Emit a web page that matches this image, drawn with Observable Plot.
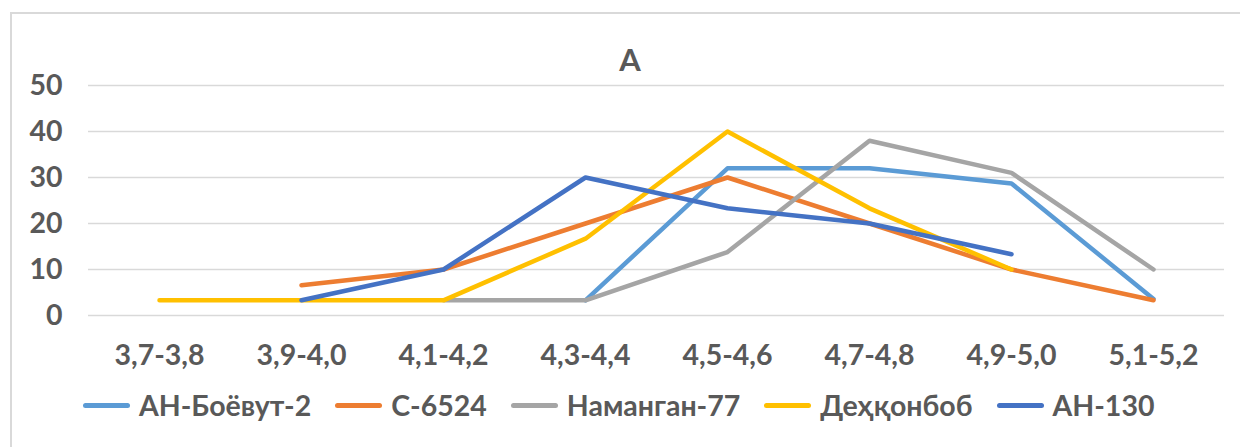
<!DOCTYPE html>
<html>
<head>
<meta charset="utf-8">
<script src="https://cdn.jsdelivr.net/npm/d3@7"></script>
<script src="https://cdn.jsdelivr.net/npm/@observablehq/plot@0.6"></script>
<style>
  html, body { margin: 0; padding: 0; background: #fff; }
  #wrap { position: relative; width: 1240px; height: 447px; overflow: hidden; font-family: Lato, "Open Sans", sans-serif; }
  #frame { position: absolute; left: 10px; top: 12px; width: 1300px; height: 500px; border-left: 2px solid #d9d9d9; border-top: 2px solid #d9d9d9; }
  #title { position: absolute; left: 0; width: 1260px; top: 40px; text-align: center; font-weight: 700; font-size: 31px; color: #595959; }
  #chart { position: absolute; left: 0; top: 0; }
  #legend { position: absolute; left: 83px; top: 388px; display: flex; align-items: center; font-weight: 700; font-size: 28.5px; color: #595959; white-space: nowrap; }
  .item { display: flex; align-items: center; margin-right: 24px; }
  .sw { width: 47px; height: 5px; border-radius: 3px; margin-right: 9px; }
</style>
</head>
<body>
<div id="wrap">
  <div id="frame"></div>
  <div id="chart"></div>
  <div id="title">A</div>
  <div id="legend"></div>
</div>
<script>
const categories = ["3,7-3,8", "3,9-4,0", "4,1-4,2", "4,3-4,4", "4,5-4,6", "4,7-4,8", "4,9-5,0", "5,1-5,2"];
const seriesNames = ["АН-Боёвут-2", "С-6524", "Наманган-77", "Деҳқонбоб", "АН-130"];
const seriesColors = ["#5B9BD5", "#ED7D31", "#A5A5A5", "#FFC000", "#4472C4"];
const anBoyovut2 = [null, null, null, 3.3, 32, 32, 28.7, 3.6];
const s6524 = [null, 6.6, 10, 20, 30, 20, 10, 3.3];
const namangan77 = [null, null, 3.3, 3.3, 13.8, 38, 31, 10];
const dehqonbob = [3.3, 3.3, 3.3, 16.7, 40, 23.3, 10, null];
const an130 = [null, 3.3, 10, 30, 23.3, 20, 13.3, null];
const yTicks = [0, 10, 20, 30, 40, 50];

const seriesValues = [anBoyovut2, s6524, namangan77, dehqonbob, an130];
const rows = [];
seriesNames.forEach((name, si) => {
  seriesValues[si].forEach((v, ci) => {
    if (v !== null) rows.push({series: name, category: categories[ci], value: v});
  });
});

const chart = Plot.plot({
  width: 1240,
  height: 447,
  marginTop: 85,
  marginBottom: 132,
  marginLeft: 88,
  marginRight: 16,
  style: { fontFamily: "Lato, 'Open Sans', sans-serif", fontWeight: 700, fontSize: "28.5px", color: "#595959", background: "transparent", overflow: "visible" },
  x: { type: "point", domain: categories, padding: 0.5, label: null, tickSize: 0, tickPadding: 29 },
  y: { domain: [0, 50], ticks: yTicks, label: null, tickSize: 0, tickPadding: 26 },
  color: { domain: seriesNames, range: seriesColors },
  marks: [
    Plot.ruleY(yTicks, { stroke: "#d9d9d9", strokeWidth: 1.5, strokeOpacity: 1 }),
    Plot.line(rows, { x: "category", y: "value", z: "series", stroke: "series", strokeWidth: 4.5, strokeLinecap: "round", strokeLinejoin: "round" })
  ]
});
document.getElementById("chart").appendChild(chart);

const legend = document.getElementById("legend");
seriesNames.forEach((name, i) => {
  const item = document.createElement("div");
  item.className = "item";
  const sw = document.createElement("div");
  sw.className = "sw";
  sw.style.background = seriesColors[i];
  const label = document.createElement("span");
  label.textContent = name;
  item.appendChild(sw);
  item.appendChild(label);
  legend.appendChild(item);
});
</script>
</body>
</html>
